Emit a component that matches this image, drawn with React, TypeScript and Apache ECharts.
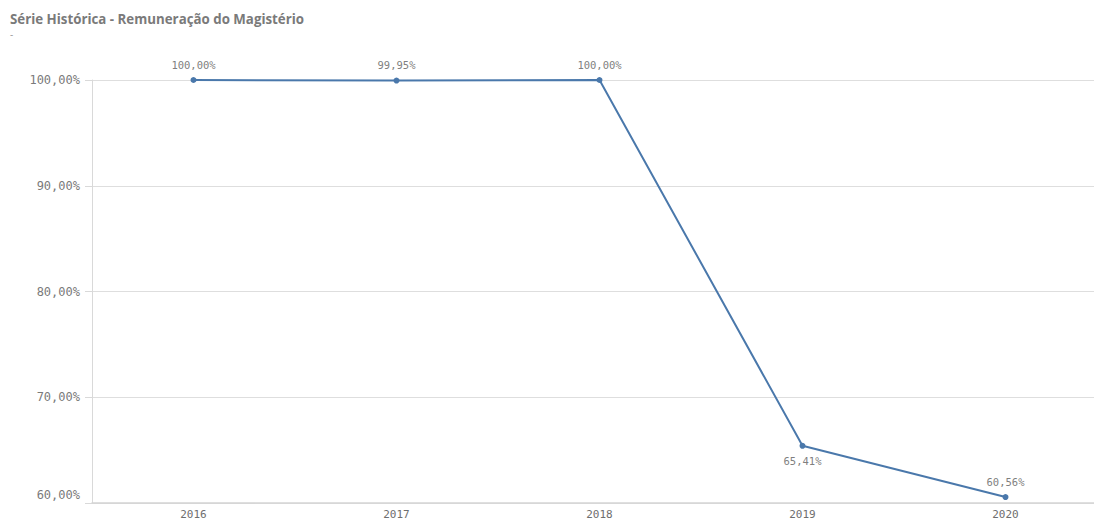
import React, { useEffect, useRef } from "react";
import * as echarts from "echarts";

const categories = ["2016", "2017", "2018", "2019", "2020"];
const values = [100.0, 99.95, 100.0, 65.41, 60.56];
const labelPositions = ["top", "top", "top", "bottom", "top"];
const yTicks = { min: 60, max: 100, interval: 10 };
const titleText = "Série Histórica - Remuneração do Magistério";
const subtitleText = "-";

const fmt = (v: number) => v.toFixed(2).replace(".", ",") + "%";

export default function App() {
  const ref = useRef<HTMLDivElement>(null);
  useEffect(() => {
    if (!ref.current) return;
    const chart = echarts.init(ref.current, undefined, { renderer: "svg" });
    chart.setOption({
      animation: false,
      backgroundColor: "#ffffff",
      title: {
        text: titleText,
        subtext: subtitleText,
        left: 5,
        top: 7,
        itemGap: 4,
        textStyle: { fontFamily: "Open Sans", fontWeight: "bold", fontSize: 13.3, color: "#7a7a7a" },
        subtextStyle: { fontFamily: "Open Sans", fontSize: 10, color: "#9a9a9a" },
      },
      grid: { left: 92, right: 3, top: 80, bottom: 15, containLabel: false },
      xAxis: {
        type: "category",
        data: categories,
        boundaryGap: true,
        axisLine: { show: true, lineStyle: { color: "#d4d4d4", width: 1.5 } },
        axisTick: { show: false },
        axisLabel: { fontFamily: "DejaVu Sans Mono", fontSize: 11, color: "#6e6e6e", margin: 6 },
        splitLine: { show: false },
      },
      yAxis: {
        type: "value",
        min: yTicks.min,
        max: yTicks.max,
        interval: yTicks.interval,
        axisLine: { show: true, lineStyle: { color: "#d9d9d9", width: 1 } },
        axisTick: { show: true, length: 7, lineStyle: { color: "#d9d9d9" } },
        axisLabel: {
          fontFamily: "DejaVu Sans Mono",
          fontSize: 12,
          color: "#7a7a7a",
          margin: 12,
          formatter: (v: number) => (v === yTicks.min ? "{low|" + fmt(v) + "}" : fmt(v)),
          rich: {
            low: {
              fontFamily: "DejaVu Sans Mono",
              fontSize: 12,
              color: "#7a7a7a",
              padding: [0, 0, 16, 0],
            },
          },
        },
        splitLine: { show: true, lineStyle: { color: "#dedede", width: 1 } },
      },
      series: [
        {
          type: "line",
          data: values.map((v, i) => ({
            value: v,
            label: { position: labelPositions[i] },
          })),
          symbol: "circle",
          symbolSize: 6,
          lineStyle: { color: "#4a78ab", width: 2 },
          itemStyle: { color: "#4a78ab" },
          label: {
            show: true,
            fontFamily: "DejaVu Sans Mono",
            fontSize: 10.5,
            color: "#7f7f7f",
            distance: 7,
            formatter: (p: any) => fmt(p.value),
          },
        },
      ],
    });
    return () => chart.dispose();
  }, []);
  return (
    <div style={{ position: "fixed", left: 0, top: 0, width: 1094, height: 520, overflow: "hidden", background: "#fff" }}>
      <div ref={ref} style={{ width: 1110, height: 520 }} />
    </div>
  );
}
